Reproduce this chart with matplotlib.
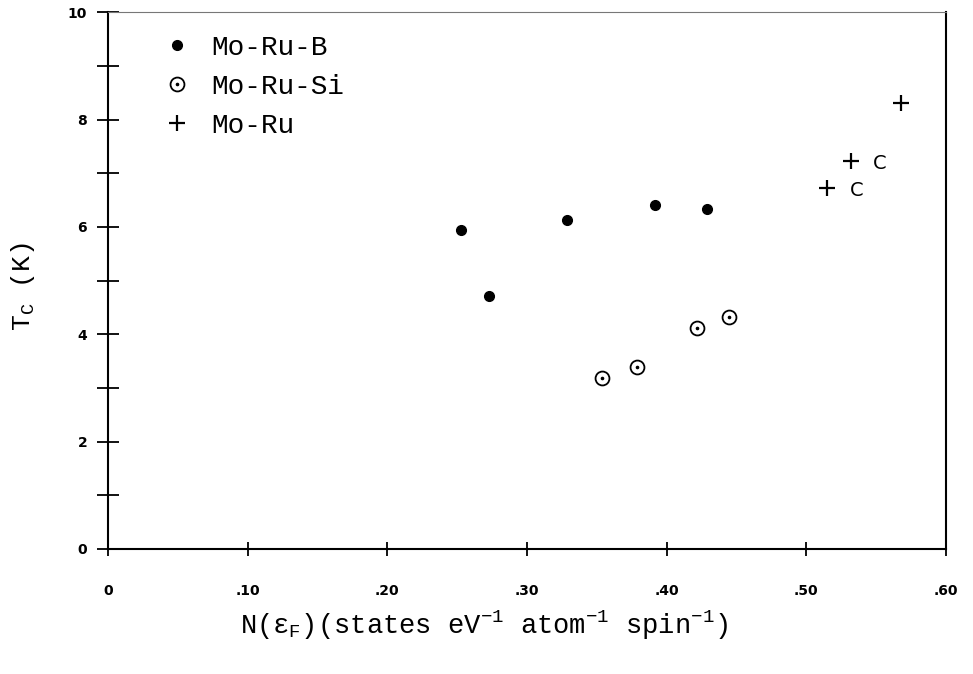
import matplotlib
matplotlib.use("Agg")
import matplotlib.pyplot as plt
from matplotlib.legend_handler import HandlerTuple
from matplotlib.ticker import FuncFormatter

# ---------------------------------------------------------------------------
# Data
# ---------------------------------------------------------------------------
mo_ru_b_x = [0.253, 0.273, 0.329, 0.392, 0.429]
mo_ru_b_tc = [5.94, 4.71, 6.13, 6.41, 6.33]

mo_ru_si_x = [0.354, 0.379, 0.422, 0.445]
mo_ru_si_tc = [3.18, 3.39, 4.12, 4.32]

mo_ru_x = [0.515, 0.532, 0.568]
mo_ru_tc = [6.72, 7.22, 8.30]

# "C" notes beside two of the Mo-Ru points (index into mo_ru_*)
note_idx = [0, 1]
note_text = ["C", "C"]

x_ticks = [0.0, 0.1, 0.2, 0.3, 0.4, 0.5, 0.6]
x_tick_labels = ["0", ".10", ".20", ".30", ".40", ".50", ".60"]
y_ticks = list(range(0, 11))

MONO = "Liberation Mono"
plt.rcParams["mathtext.fontset"] = "custom"
plt.rcParams["mathtext.rm"] = MONO
plt.rcParams["mathtext.it"] = MONO
plt.rcParams["mathtext.bf"] = MONO

fig = plt.figure(figsize=(9.73, 6.74), dpi=100)
ax = fig.add_axes([0.111, 0.1855, 0.861, 0.7965])

h_b, = ax.plot(mo_ru_b_x, mo_ru_b_tc, "o", color="black", ms=7, ls="none")
h_si_ring, = ax.plot(mo_ru_si_x, mo_ru_si_tc, "o", mfc="none", mec="black",
                     ms=10, mew=1.3, ls="none")
h_si_dot, = ax.plot(mo_ru_si_x, mo_ru_si_tc, "o", color="black", ms=1.6,
                    ls="none")
h_ru, = ax.plot(mo_ru_x, mo_ru_tc, "+", color="black", ms=12, mew=1.6,
                ls="none")

for i, t in zip(note_idx, note_text):
    ax.annotate(t, (mo_ru_x[i], mo_ru_tc[i]), xytext=(21, -1.5),
                textcoords="offset points", ha="center", va="center",
                fontsize=14, family="DejaVu Sans")

ax.legend([h_b, (h_si_ring, h_si_dot), h_ru],
          ["Mo-Ru-B", "Mo-Ru-Si", "Mo-Ru"],
          handler_map={tuple: HandlerTuple(ndivide=1, pad=0)},
          loc="upper left", bbox_to_anchor=(0.0525, 0.978), frameon=False,
          prop={"family": MONO, "size": 20}, handlelength=1.0,
          handletextpad=0.75, labelspacing=0.46, borderaxespad=0)

ax.set_xlim(0, 0.6)
ax.set_ylim(0, 10)
ax.set_xticks(x_ticks)
ax.set_xticklabels(x_tick_labels)
ax.set_yticks(y_ticks)
ax.yaxis.set_major_formatter(
    FuncFormatter(lambda v, p: f"{int(v)}" if int(v) % 2 == 0 else ""))

ax.tick_params(axis="y", direction="inout", length=16, width=1.3, pad=7,
               labelsize=10)
ax.tick_params(axis="x", direction="inout", length=10, width=1.3, pad=20,
               labelsize=10)
for lab in ax.get_xticklabels() + ax.get_yticklabels():
    lab.set_fontweight("bold")

for side in ("left", "bottom", "right"):
    ax.spines[side].set_linewidth(1.5)
ax.spines["top"].set_linewidth(0.8)
ax.spines["top"].set_color("#777777")

ax.set_xlabel(r"N($\varepsilon_{F}$)(states eV$^{-1}$ atom$^{-1}$ spin$^{-1}$)",
              family=MONO, fontsize=19.5, labelpad=10)
ax.xaxis.set_label_coords(0.449, -0.112, transform=ax.transAxes)
ax.set_ylabel(r"T$_{C}$ (K)", family=MONO, fontsize=19)
ax.yaxis.set_label_coords(-0.085, 0.488)

fig.savefig("out.png", dpi=100)
